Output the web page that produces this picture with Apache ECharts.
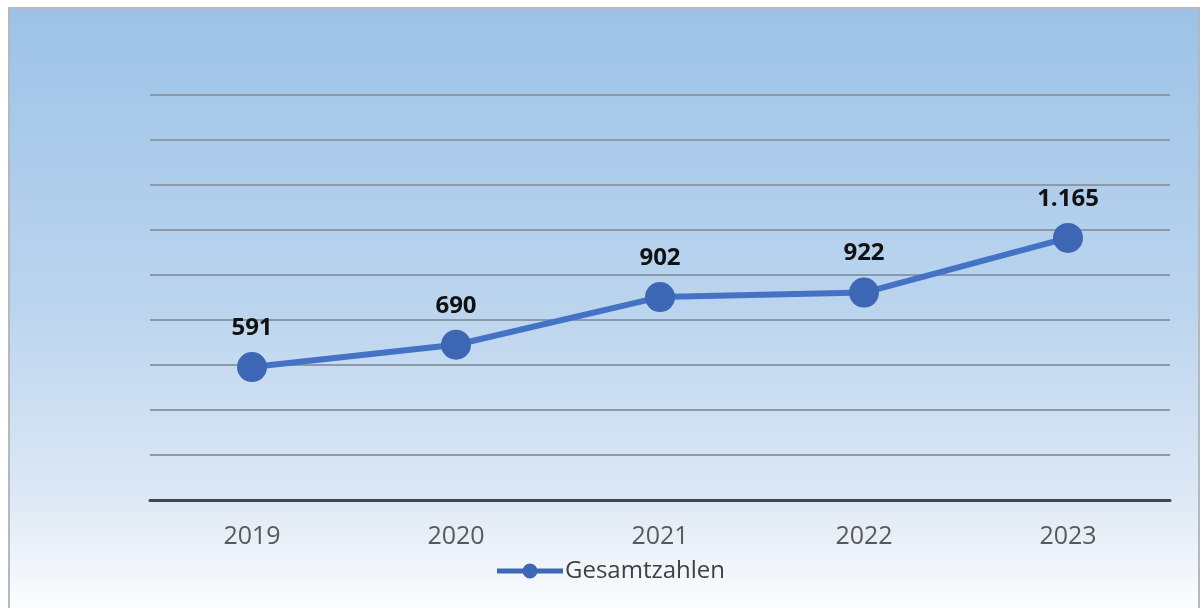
<!DOCTYPE html>
<html>
<head>
<meta charset="utf-8">
<script src="https://cdn.jsdelivr.net/npm/echarts@6/dist/echarts.min.js"></script>
<style>
  html, body { margin: 0; padding: 0; background: #ffffff; }
  #chart { width: 1203px; height: 608px; }
</style>
</head>
<body>
<div id="chart"></div>
<script>
// Jahreswerte der Gesamtzahlen
const years = ['2019', '2020', '2021', '2022', '2023'];
const totals = [591, 690, 902, 922, 1165];
const seriesName = 'Gesamtzahlen';

const chart = echarts.init(document.getElementById('chart'));

// Labels use German thousands separator (1.165)
const fmt = v => v.toLocaleString('de-DE');

// Legend icon: line with a dot in the middle
const legendIcon = 'path://M0,5 L66,5 L66,10 L0,10 Z ' +
  'M25.5,7.5 A7.5,7.5 0 1,1 40.5,7.5 A7.5,7.5 0 1,1 25.5,7.5 Z';

chart.setOption({
  animation: false,
  graphic: [{
    type: 'rect',
    z: -10,
    silent: true,
    shape: { x: 9, y: 8, width: 1190, height: 610 },
    style: {
      fill: new echarts.graphic.LinearGradient(0, 0, 0, 1, [
        { offset: 0, color: '#9cc2e7' },
        { offset: 0.5, color: '#bcd5ee' },
        { offset: 0.8, color: '#dde8f5' },
        { offset: 1, color: '#ffffff' }
      ]),
      stroke: '#b4b9bf',
      lineWidth: 2
    }
  }],
  grid: { left: 150, right: 33, top: 95, bottom: 108 },
  legend: {
    data: [{ name: seriesName, icon: legendIcon }],
    bottom: 20,
    left: 492,
    itemWidth: 66,
    itemHeight: 15,
    itemGap: 4,
    textStyle: { fontFamily: 'Open Sans', fontSize: 24, color: '#404040', padding: [0, 0, 0, -3] }
  },
  xAxis: {
    type: 'category',
    data: years,
    boundaryGap: true,
    axisLine: { show: true, lineStyle: { color: '#3f4650', width: 3 } },
    axisTick: { show: false },
    axisLabel: { fontFamily: 'Open Sans', fontSize: 25, color: '#595959', margin: 24 }
  },
  yAxis: {
    type: 'value',
    min: 0,
    max: 1800,
    interval: 200,
    axisLabel: { show: false },
    axisLine: { show: false },
    axisTick: { show: false },
    splitLine: { show: true, lineStyle: { color: '#8a9aaa', width: 2 } }
  },
  series: [{
    name: seriesName,
    type: 'line',
    data: totals,
    symbol: 'circle',
    symbolSize: 30,
    lineStyle: { color: '#4472c4', width: 6 },
    itemStyle: { color: '#3d66b4' },
    label: {
      show: true,
      position: 'top',
      distance: 12,
      formatter: p => fmt(p.value),
      fontFamily: 'Open Sans',
      fontWeight: 'bold',
      fontSize: 24,
      color: '#111111'
    }
  }]
});
</script>
</body>
</html>
